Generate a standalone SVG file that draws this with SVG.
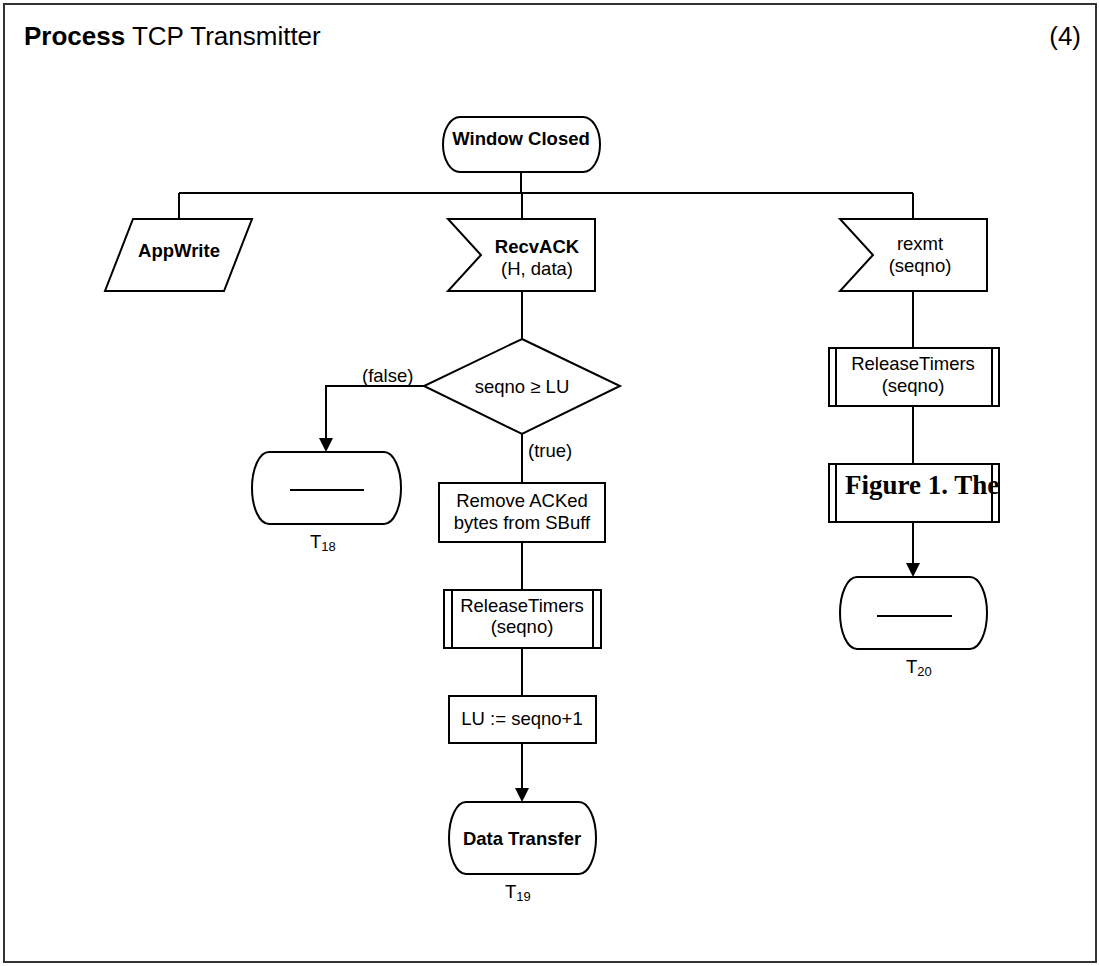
<svg xmlns="http://www.w3.org/2000/svg" width="1099" height="966" viewBox="0 0 1099 966">
  <style>
    .shape { fill: #fff; stroke: #000; stroke-width: 2; }
    .line { fill: none; stroke: #000; stroke-width: 2; }
    text { font-family: "Liberation Sans", Arial, sans-serif; font-size: 18.5px; fill: #000; }
    .c { text-anchor: middle; }
    .b { font-weight: bold; }
    .title { font-size: 26px; }
    .sub { font-size: 13px; }
    .fig { font-family: "Liberation Serif", "Times New Roman", serif; font-weight: bold; font-size: 27px; }
  </style>
  <defs>
    <clipPath id="figclip">
      <rect x="829" y="464" width="170" height="58"/>
    </clipPath>
  </defs>

  <rect width="1099" height="966" fill="#fff"/>
  <!-- frame -->
  <rect x="4" y="4" width="1092" height="958" fill="none" stroke="#333" stroke-width="2"/>
  <text x="24" y="45" class="title"><tspan class="b">Process</tspan> TCP Transmitter</text>
  <text x="1081" y="45" class="title" text-anchor="end">(4)</text>

  <!-- connectors -->
  <g id="connectors">
    <path class="line" d="M521,172 V193"/>
    <path class="line" d="M179,193 H913"/>
    <path class="line" d="M179,193 V219"/>
    <path class="line" d="M522,193 V219"/>
    <path class="line" d="M913,193 V219"/>
    <path class="line" d="M522,291 V339"/>
    <path class="line" d="M424,386 H326 V438"/>
    <path d="M319,438 L333,438 L326,452 Z" fill="#000"/>
    <path class="line" d="M522,434 V483"/>
    <path class="line" d="M522,542 V590"/>
    <path class="line" d="M522,648 V696"/>
    <path class="line" d="M522,743 V788"/>
    <path d="M515,788 L529,788 L522,802 Z" fill="#000"/>
    <path class="line" d="M913,291 V348"/>
    <path class="line" d="M913,406 V464"/>
    <path class="line" d="M913,522 V563"/>
    <path d="M906,563 L920,563 L913,577 Z" fill="#000"/>
    <text x="362" y="382">(false)</text>
    <text x="528" y="457">(true)</text>
  </g>

  <!-- start state -->
  <g id="window-closed">
    <path class="shape" d="M460,117 H583 A17,27.5 0 0 1 583,172 H460 A17,27.5 0 0 1 460,117 Z"/>
    <text x="521" y="145" class="c b">Window Closed</text>
  </g>

  <g id="appwrite">
    <polygon class="shape" points="133,219 252,219 224,291 105,291"/>
    <text x="179" y="257" class="c b">AppWrite</text>
  </g>

  <g id="recvack">
    <polygon class="shape" points="448,219 595,219 595,291 448,291 481,255"/>
    <text x="537" y="253" class="c b">RecvACK</text>
    <text x="537" y="275" class="c">(H, data)</text>
  </g>

  <g id="rexmt">
    <polygon class="shape" points="840,219 987,219 987,291 840,291 873,255"/>
    <text x="920" y="250" class="c">rexmt</text>
    <text x="920" y="272" class="c">(seqno)</text>
  </g>

  <g id="decision">
    <polygon class="shape" points="522,339 620,386 522,434 424,386"/>
    <text x="522" y="393" class="c">seqno ≥ LU</text>
  </g>

  <g id="t18">
    <path class="shape" d="M269,452 H384 A17,36 0 0 1 384,524 H269 A17,36 0 0 1 269,452 Z"/>
    <path class="line" d="M290,490 H364"/>
    <text x="310" y="548">T<tspan class="sub" dy="3">18</tspan></text>
  </g>

  <g id="remove-acked">
    <rect class="shape" x="439" y="483" width="166" height="59"/>
    <text x="522" y="507" class="c">Remove ACKed</text>
    <text x="522" y="529" class="c">bytes from SBuff</text>
  </g>

  <g id="release-timers-1">
    <rect class="shape" x="444" y="590" width="157" height="58"/>
    <path class="line" d="M452,590 V648 M593,590 V648"/>
    <text x="522" y="612" class="c">ReleaseTimers</text>
    <text x="522" y="633" class="c">(seqno)</text>
  </g>

  <g id="lu-assign">
    <rect class="shape" x="449" y="696" width="147" height="47"/>
    <text x="522" y="725" class="c">LU := seqno+1</text>
  </g>

  <g id="data-transfer">
    <path class="shape" d="M466,802 H579 A17,36 0 0 1 579,874 H466 A17,36 0 0 1 466,802 Z"/>
    <text x="522" y="845" class="c b">Data Transfer</text>
    <text x="505" y="898">T<tspan class="sub" dy="3">19</tspan></text>
  </g>

  <g id="release-timers-2">
    <rect class="shape" x="829" y="348" width="170" height="58"/>
    <path class="line" d="M836,348 V406 M992,348 V406"/>
    <text x="913" y="370" class="c">ReleaseTimers</text>
    <text x="913" y="392" class="c">(seqno)</text>
  </g>

  <g id="figure-call">
    <rect class="shape" x="829" y="464" width="170" height="58"/>
    <text x="845" y="494" class="fig" clip-path="url(#figclip)">Figure 1. The</text>
    <path class="line" d="M836,464 V522 M992,464 V522"/>
  </g>

  <g id="t20">
    <path class="shape" d="M857,577 H970 A17,36 0 0 1 970,649 H857 A17,36 0 0 1 857,577 Z"/>
    <path class="line" d="M877,616 H952"/>
    <text x="906" y="673">T<tspan class="sub" dy="3">20</tspan></text>
  </g>
</svg>
